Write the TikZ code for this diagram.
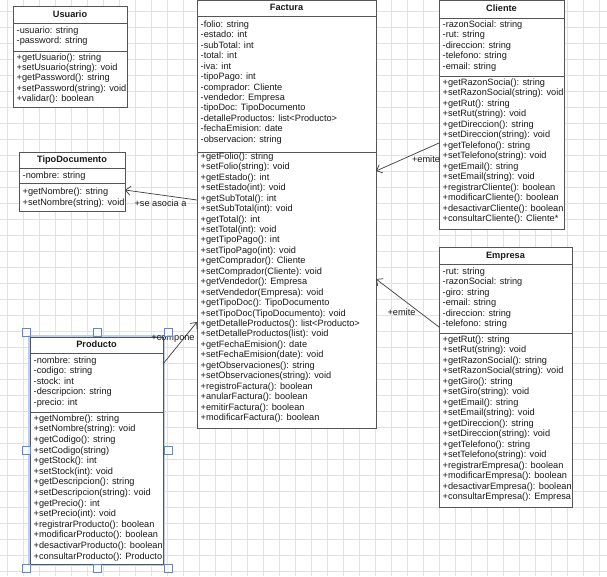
\documentclass[tikz,border=0pt]{standalone}
\usepackage{fontspec}
\setmainfont{Liberation Sans}
\usetikzlibrary{arrows.meta,calc}
\definecolor{gridc}{RGB}{226,226,226}
\definecolor{boxc}{RGB}{85,85,85}
\definecolor{linec}{RGB}{60,60,60}
\definecolor{txtc}{RGB}{25,25,25}
\definecolor{selc}{RGB}{185,208,242}
\definecolor{handlec}{RGB}{95,135,215}
\tikzset{
  classbox/.style={draw=boxc, fill=white, line width=0.9pt, inner sep=0pt, outer sep=0pt, anchor=north west},
  member/.style={anchor=west, inner sep=0pt, text=txtc, font=\fontsize{9.2}{11}\selectfont, text height=6.6pt, text depth=2pt},
  ctitle/.style={member, anchor=center, font=\fontsize{9.2}{11}\selectfont\bfseries},
  sepline/.style={draw=boxc, line width=0.9pt},
  assoc/.style={draw=linec, line width=0.7pt, -{Straight Barb[length=5pt,width=9pt]}},
  alabel/.style={member, anchor=center},
  gridline/.style={draw=gridc, line width=0.5pt},
  handle/.style={draw=handlec, fill=white, fill opacity=0.6, line width=0.8pt},
}
\newcommand\memberlines[5]{%
  \foreach \mtxt [count=\mi from 0] in {#5} {\node[member] (#1\mi) at (#2,{#3+\mi*#4}) {\mtxt};}}
\begin{document}
\begin{tikzpicture}[x=1pt,y=-1pt]
\useasboundingbox (0,0) rectangle (607,576);
\fill[white] (0,0) rectangle (607,576);
% grid
\foreach \gx in {7.3,23.3,...,607} \draw[gridline] (\gx,0) -- (\gx,576);
\foreach \gy in {11,27,...,576} \draw[gridline] (0,\gy) -- (607,\gy);

% ---------------- Usuario
\node[classbox, minimum width=114pt, minimum height=101pt] (usuario) at (13,6) {};
\draw[sepline] (usuario.west |- 0,23) -- (usuario.east |- 0,23);
\draw[sepline] (usuario.west |- 0,51) -- (usuario.east |- 0,51);
\node[ctitle] (usuariot) at (70,15) {Usuario};
\memberlines{ua}{16.5}{31}{10.3}{-usuario: string,-password: string}
\memberlines{um}{16.5}{58}{10.3}{+getUsuario(): string,+setUsuario(string): void,+getPassword(): string,+setPassword(string): void,+validar(): boolean}

% ---------------- TipoDocumento
\node[classbox, minimum width=106pt, minimum height=59pt] (tipodoc) at (19,152) {};
\draw[sepline] (tipodoc.west |- 0,168) -- (tipodoc.east |- 0,168);
\draw[sepline] (tipodoc.west |- 0,183) -- (tipodoc.east |- 0,183);
\node[ctitle] (tipodoct) at (72,160) {TipoDocumento};
\memberlines{ta}{22.5}{176}{10.4}{-nombre: string}
\memberlines{tm}{22.5}{192.5}{10.4}{+getNombre(): string,+setNombre(string): void}

% ---------------- Factura
\node[classbox, minimum width=179pt, minimum height=428pt] (factura) at (197,0.5) {};
\draw[sepline] (factura.west |- 0,16) -- (factura.east |- 0,16);
\draw[sepline] (factura.west |- 0,152) -- (factura.east |- 0,152);
\node[ctitle] (facturat) at (286.5,8.5) {Factura};
\memberlines{fa}{200.5}{25}{10.45}{-folio: string,-estado: int,-subTotal: int,-total: int,-iva: int,-tipoPago: int,-comprador: Cliente,-vendedor: Empresa,-tipoDoc: TipoDocumento,-detalleProductos: list<Producto>,-fechaEmision: date,-observacion: string}
\memberlines{fm}{200.5}{157}{10.45}{+getFolio(): string,+setFolio(string): void,+getEstado(): int,+setEstado(int): void,+getSubTotal(): int,+setSubTotal(int): void,+getTotal(): int,+setTotal(int): void,+getTipoPago(): int,+setTipoPago(int): void,+getComprador(): Cliente,+setComprador(Cliente): void,+getVendedor(): Empresa,+setVendedor(Empresa): void,+getTipoDoc(): TipoDocumento,+setTipoDoc(TipoDocumento): void,+getDetalleProductos(): list<Producto>,+setDetalleProductos(list): void,+getFechaEmision(): date,+setFechaEmision(date): void,+getObservaciones(): string,+setObservaciones(string): void,+registroFactura(): boolean,+anularFactura(): boolean,+emitirFactura(): boolean,+modificarFactura(): boolean}

% ---------------- Cliente
\node[classbox, minimum width=125pt, minimum height=228.5pt] (cliente) at (439,0.5) {};
\draw[sepline] (cliente.west |- 0,18) -- (cliente.east |- 0,18);
\draw[sepline] (cliente.west |- 0,76) -- (cliente.east |- 0,76);
\node[ctitle] (clientet) at (501.5,9) {Cliente};
\memberlines{ca}{442.5}{25}{10.45}{-razonSocial: string,-rut: string,-direccion: string,-telefono: string,-email: string}
\memberlines{cm}{442.5}{83}{10.5}{+getRazonSocia(): string,+setRazonSocial(string): void,+getRut(): string,+setRut(string): void,+getDireccion(): string,+setDireccion(string): void,+getTelefono(): string,+setTelefono(string): void,+getEmail(): string,+setEmail(string): void,+registrarCliente(): boolean,+modificarCliente(): boolean,+desactivarCliente(): boolean,+consultarCliente(): Cliente*}

% ---------------- Empresa
\node[classbox, minimum width=133pt, minimum height=260pt] (empresa) at (439,247) {};
\draw[sepline] (empresa.west |- 0,264) -- (empresa.east |- 0,264);
\draw[sepline] (empresa.west |- 0,333) -- (empresa.east |- 0,333);
\node[ctitle] (empresat) at (505.5,256) {Empresa};
\memberlines{ea}{442.5}{272}{10.45}{-rut: string,-razonSocial: string,-giro: string,-email: string,-direccion: string,-telefono: string}
\memberlines{em}{442.5}{340}{10.5}{+getRut(): string,+setRut(string): void,+getRazonSocial(): string,+setRazonSocial(string): void,+getGiro(): string,+setGiro(string): void,+getEmail(): string,+setEmail(string): void,+getDireccion(): string,+setDireccion(string): void,+getTelefono(): string,+setTelefono(string): void,+registrarEmpresa(): boolean,+modificarEmpresa(): boolean,+desactivarEmpresa(): boolean,+consultarEmpresa(): Empresa}

% ---------------- Producto (selected)
\draw[selc, line width=3.5pt] (30,337) rectangle (163,564);
\node[classbox, minimum width=133pt, minimum height=227pt] (producto) at (30,337) {};
\draw[sepline] (producto.west |- 0,353) -- (producto.east |- 0,353);
\draw[sepline] (producto.west |- 0,412) -- (producto.east |- 0,412);
\node[ctitle] (productot) at (96.5,345) {Producto};
\memberlines{pa}{33.5}{361}{10.45}{-nombre: string,-codigo: string,-stock: int,-descripcion: string,-precio: int}
\memberlines{pm}{33.5}{419}{10.6}{+getNombre(): string,+setNombre(string): void,+getCodigo(): string,+setCodigo(string),+getStock(): int,+setStock(int): void,+getDescripcion(): string,+setDescripcion(string): void,+getPrecio(): int,+setPrecio(int): void,+registrarProducto(): boolean,+modificarProducto(): boolean,+desactivarProducto(): boolean,+consultarProducto(): Producto}

% ---------------- associations
\draw[assoc] ($(factura.north west)+(0,199.5)$) -- ($(tipodoc.north east)+(0,38)$);
\node[alabel] (lasocia) at (160.5,204) {+se asocia a};
\draw[assoc] ($(cliente.north west)+(0,142.5)$) -- ($(factura.north east)+(0,170.5)$);
\node[alabel] (lemite1) at (426,160) {+emite};
\draw[assoc] ($(empresa.north west)+(0,80)$) -- ($(factura.north east)+(0,278.5)$);
\node[alabel] (lemite2) at (401.5,313) {+emite};
\draw[assoc] ($(producto.north east)+(0,27)$) -- ($(factura.north west)+(0,321.5)$);
\node[alabel] (lcompone) at (173,338) {+compone};

% selection handles
\foreach \hx/\hy in {26/332,97/332,168/332,26/450,168/450,26/568,97/568,168/568}
  \draw[handle] (\hx-4,\hy-4) rectangle (\hx+4,\hy+4);
\end{tikzpicture}
\end{document}
